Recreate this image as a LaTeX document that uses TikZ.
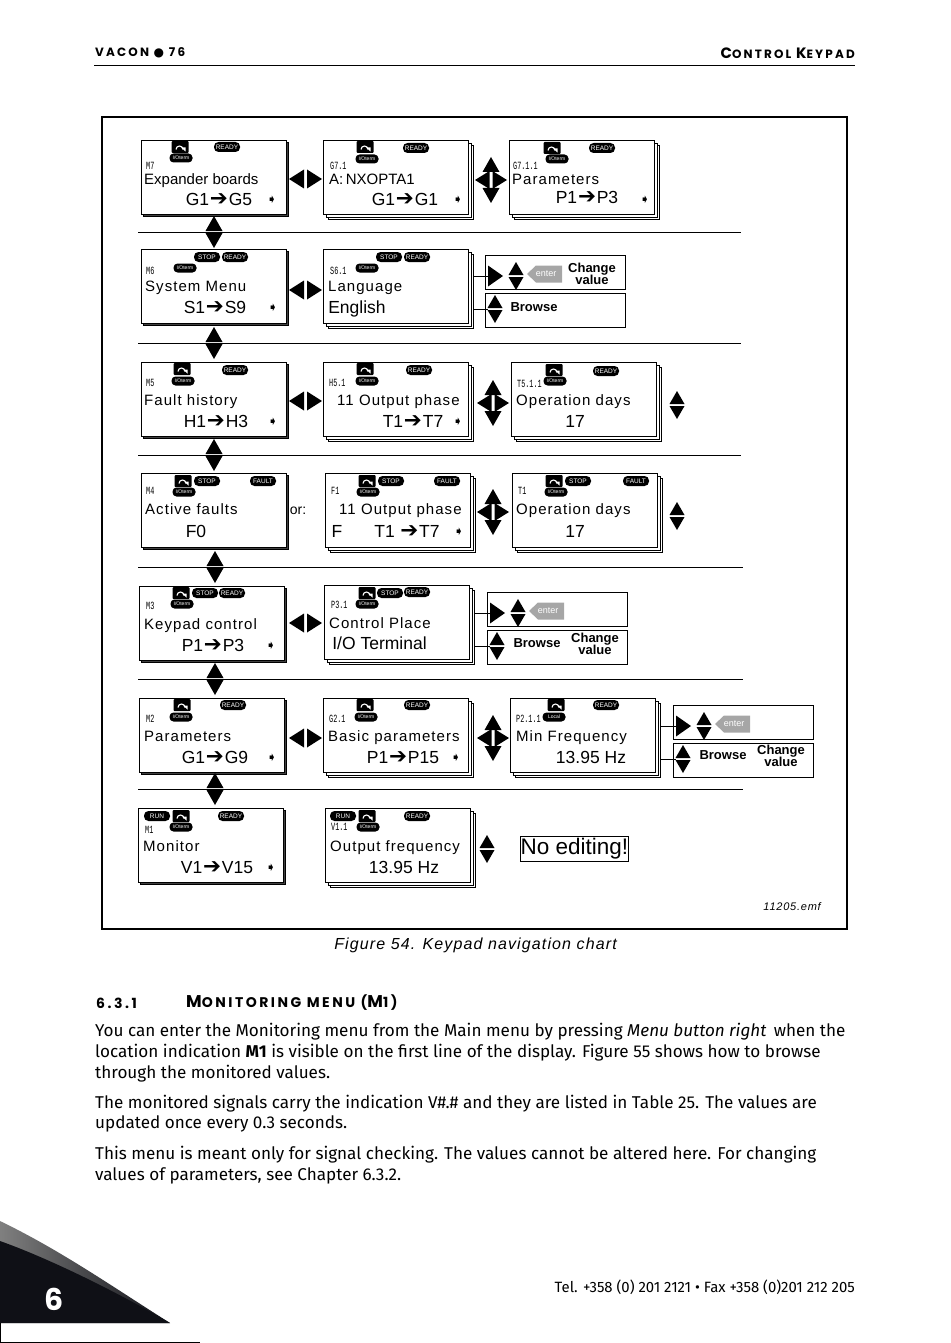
\documentclass[tikz,border=0pt]{standalone}
\usepackage{fontspec}
\usepackage{graphicx}
\setmainfont{Liberation Sans}
\newfontfamily\titlefont[LetterSpace=7]{Liberation Sans}
\newfontfamily\valuefont{Liberation Sans}
\newfontfamily\arrowfont{DejaVu Sans}
\newfontfamily\lcdfont{Liberation Mono}
\newfontfamily\capsfont[LetterSpace=18]{Poppins}
\newfontfamily\bodyfont{Fira Sans}
\newcommand{\goes}{\hspace{.8pt}{\fontsize{21.5}{20}\selectfont\arrowfont\char"2794}\hspace{.8pt}}
\newcommand{\lcdtext}[1]{\scalebox{.62}[1]{#1}}
\newcommand{\capinit}[1]{{\fontsize{15}{15}\selectfont #1}}
\newcommand{\seccap}[1]{{\fontsize{17}{17}\selectfont #1}}
\definecolor{inkblack}{HTML}{0F1016}
\tikzset{
  screen/.style={draw, fill=white, line width=.9pt, anchor=north west, inner sep=0,
    minimum width=145pt, minimum height=73.5pt},
  backing/.style={screen, fill=black!75},
  optionbox/.style={draw, line width=.8pt, anchor=north west, inner sep=0,
    minimum width=140pt, minimum height=34pt},
  titletext/.style={anchor=base west, inner sep=0, font={\fontsize{15}{15}\selectfont\titlefont}},
  valuetext/.style={anchor=base, inner sep=0, font={\fontsize{17.5}{18}\selectfont\valuefont}},
  codetext/.style={anchor=west, inner sep=0, font={\fontsize{11}{11}\selectfont\lcdfont}},
  marktext/.style={inner sep=0, font={\fontsize{12}{12}\selectfont\arrowfont}},
  pill/.style={fill=black, text=white, rounded corners=4.5pt, inner sep=0, minimum width=26pt,
    minimum height=10pt, font={\fontsize{6.5}{7}\selectfont}},
  iopill/.style={pill, rounded corners=4pt, minimum width=23pt, minimum height=9pt, font={\fontsize{5}{6}\selectfont}},
  boldtext/.style={inner sep=0, align=center, font={\fontsize{13}{12.5}\selectfont\bfseries}},
  bodytext/.style={anchor=base west, inner sep=0, font={\fontsize{17.1}{20}\selectfont\bodyfont}},
  capstext/.style={inner sep=0, font={\fontsize{12}{14}\selectfont\capsfont\bfseries}},
  sectext/.style={capstext, anchor=west, font={\fontsize{14}{16}\selectfont\capsfont\bfseries}},
  updown/.pic={
    \fill (-8.5,-1) -- (0,-16) -- (8.5,-1) -- cycle;
    \fill (-8.5,1) -- (0,16) -- (8.5,1) -- cycle;
  },
  smallupdown/.pic={
    \fill (-7.5,-1) -- (0,-14) -- (7.5,-1) -- cycle;
    \fill (-7.5,1) -- (0,14) -- (7.5,1) -- cycle;
  },
  leftright/.pic={
    \fill (-1.5,-9.5) -- (-16.5,0) -- (-1.5,9.5) -- cycle;
    \fill (1.5,-9.5) -- (16.5,0) -- (1.5,9.5) -- cycle;
  },
  cross/.pic={
    \fill (-8.5,-8) -- (0,-23) -- (8.5,-8) -- cycle;
    \fill (-8.5,8) -- (0,23) -- (8.5,8) -- cycle;
    \fill (-1.5,-9) -- (-16,0) -- (-1.5,9) -- cycle;
    \fill (1.5,-9) -- (16,0) -- (1.5,9) -- cycle;
  },
  turnkey/.pic={
    \fill[rounded corners=1pt] (-8.5,-6) rectangle (8.5,6);
    \draw[white, line width=1.1pt] (-4,2.5) arc[start angle=180, end angle=360, radius=3.5];
    \fill[white] (1,.5) -- (5.5,4.5) -- (5.5,.5) -- cycle;
  },
  enterkey/.pic={
    \fill[gray!70] (0,0) -- (9,-8.5) -- (35,-8.5) -- (35,8.5) -- (9,8.5) -- cycle;
  },
}
\begin{document}
\begin{tikzpicture}[x=1pt, y=-1pt]
    \useasboundingbox (0,0) rectangle (950,1343);

    % Page header
    \node[capstext, anchor=west] (hdrleft) at (95,53) {VACON {\arrowfont\char"25CF} 76};
    \node[capstext, anchor=east] (hdrright) at (855,53) {\capinit{C}ONTROL \capinit{K}EYPAD};
    \draw[line width=1.3pt] (94,65.5) -- (855,65.5);

    % Outer frame
    \draw[line width=1.6pt] (102,117) rectangle (847,929);

    % Separators
    \foreach \y/\xa/\xb in {232/138/741, 343/138/741, 455/138/741, 567/138/743, 679/138/743, 789/138/743}
        \draw[line width=.9pt] (\xa,\y) -- (\xb,\y);

    % Screens with a plain shadow
    \foreach \id/\x/\y in {m7/141/140, m6/141/249, m5/141/362, m4/141/473, m3/139/586, m2/139/698, m1/138/808} {
        \node[backing] (\id-a) at (\x+2,\y+2) {};
        \node[screen] (\id) at (\x,\y) {};
    }

    % Screens with stacked pages
    \foreach \id/\x/\y in {g71/323/140, g711/509/140, s61/323/249, h51/323/362, t511/511/362, f1/325/473,
                           t1/512/473, p31/324/585, g21/323/698, p211/510/698, v11/325/808} {
        \node[screen] (\id-b) at (\x+5,\y+5) {};
        \node[screen] (\id-a) at (\x+3,\y+3) {};
        \node[screen] (\id) at (\x,\y) {};
    }

    % Location codes
    \foreach \id/\x/\y/\code in {m7/146/166/M7, g71/330/166/G7.1, g711/513/166/G7.1.1, m6/146/271/M6,
                                 s61/330/271/S6.1, m5/146/383/M5, h51/329/383/H5.1, t511/517/384/T5.1.1,
                                 m4/146/491/M4, f1/331/491/F1, t1/518/491/T1, m3/146/606/M3,
                                 p31/331/605/P3.1, m2/146/719/M2, g21/329/719/G2.1, p211/516/719/P2.1.1,
                                 m1/145/830/M1, v11/331/827/V1.1}
        \node[codetext] (\id-code) at (\x,\y) {\lcdtext{\code}};

    % Titles
    \foreach \id/\x/\y/\txt in {m7/144/180/{\valuefont Expander boards}, g71/329/180/{\valuefont A:\,NXOPTA1}, g711/512/180/Parameters,
                                m6/145/286/System Menu, s61/328/286/Language, m5/144/400/Fault history,
                                h51/337/400/11 Output phase, t511/516/400/Operation days, m4/145/509/Active faults,
                                f1/339/509/11 Output phase, t1/516/509/Operation days, m3/144/624/Keypad control,
                                p31/329/623/Control Place, m2/144/736/Parameters, g21/328/736/Basic parameters,
                                p211/516/736/Min Frequency, m1/143/846/Monitor, v11/330/846/Output frequency}
        \node[titletext] (\id-title) at (\x,\y+5) {\txt};

    % Values
    \foreach \id/\x/\y/\txt in {m7/219/199/G1\goes G5, g71/405/199/G1\goes G1, g711/587/198/P1\goes P3,
                                m6/215/307/S1\goes S9, s61/357/307/English, m5/216/421/H1\goes H3,
                                h51/413/421/T1\goes T7, t511/575/421/17, m4/196/531/F0, t1/575/531/17,
                                m3/213/645/P1\goes P3, p31/379.5/643/{I/O Terminal}, m2/215/757/G1\goes G9,
                                g21/403/757/P1\goes P15, p211/591/757/13.95 Hz, m1/217/867/V1\goes V15,
                                v11/404/867/13.95 Hz, f1/337/531/F, f1b/407/531/T1 \goes T7}
        \node[valuetext] (\id-value) at (\x,\y+6) {\txt};

    % Small arrows at the end of the value line
    \foreach \id/\x/\y in {m7/272/200, g71/458/200, g711/645/200, m6/273/308, m5/273/422, h51/458/422, f1/459/532,
                           m3/271/646, m2/272/758, g21/456/758, m1/271/868}
        \node[marktext] (\id-mark) at (\x,\y) {\char"27A7};

    % Status indicators
    \foreach \id/\x/\y/\txt in {a/227/147/READY, b/416/148/READY, c/602/148/READY, d/207/257/STOP, e/235/257/READY,
                                f/389/257/STOP, g/417/257/READY, h/235/370/READY, i/419/370/READY, j/606/371/READY,
                                k/207/481/STOP, l/263/481/FAULT, m/391/481/STOP, n/447/481/FAULT, o/578/481/STOP,
                                p/636/481/FAULT, q/205/593/STOP, r/232/593/READY, s/390/593/STOP, t/417/592/READY,
                                u/233/705/READY, v/417/705/READY, w/606/705/READY, x/157/816/RUN, y/231/816/READY,
                                z/343/816/RUN, aa/417/816/READY}
        \node[pill] (st-\id) at (\x,\y) {\txt};
    \foreach \id/\x/\y/\txt in {a/181/158/{I/Oterm}, b/367/159/{I/Oterm}, c/557/159/{I/Oterm}, d/185/268/{I/Oterm},
                                e/367/268/{I/Oterm}, f/183/381/{I/Oterm}, g/367/381/{I/Oterm}, h/555/381/{I/Oterm},
                                i/184/492/{I/Oterm}, j/368/492/{I/Oterm}, k/556/492/{I/Oterm}, l/182/604/{I/Oterm},
                                m/367/604/{I/Oterm}, n/181/717/{I/Oterm}, o/366/717/{I/Oterm}, p/554/717/Local,
                                q/181/827/{I/Oterm}, r/368/827/{I/Oterm}}
        \node[iopill] (io-\id) at (\x,\y) {\txt};

    % Turning arrow keys
    \foreach \x/\y in {180/147, 365/147, 552/148, 182/369, 365/369, 554/370, 183/481, 367/481, 554/481,
                       181/593, 367/593, 182/705, 365/705, 556/705, 181/816, 367/816}
        \pic at (\x,\y) {turnkey};

    % Navigation arrows
    \foreach \x/\y in {214/232, 214/343, 214/455, 215/567, 215/679, 215/789}
        \pic at (\x,\y) {updown};
    \foreach \x/\y in {305.5/179, 305.5/290, 305.5/401, 305.5/623, 305.5/738}
        \pic at (\x,\y) {leftright};
    \foreach \x/\y in {491/180, 493/403, 493/512, 493/738}
        \pic at (\x,\y) {cross};
    \foreach \x/\y in {677/405, 677/516, 487/849}
        \pic at (\x,\y) {smallupdown};

    % Boxes beside the last screen of a row
    \foreach \id/\x/\y/\from in {sa/485/255/s61-b, sb/487/592/p31-b, sc/673/705/p211-b} {
        \node[optionbox] (\id-edit) at (\x,\y) {};
        \node[optionbox] (\id-look) at (\x,\y+38) {};
        \coordinate (\id-in) at (\x+3,\y+21);
        \coordinate (\id-out) at (\x+3,\y+54);
        \fill (\x+3,\y+10.5) -- (\x+18,\y+21) -- (\x+3,\y+31.5) -- cycle;
        \pic at (\x+31,\y+21) {smallupdown};
        \pic at (\x+10,\y+54) {smallupdown};
        \pic at (\x+42,\y+19) {enterkey};
        \node[inner sep=0, text=white, font={\fontsize{9}{9}\selectfont}] (\id-enter) at (\x+61,\y+18.5) {enter};
        \draw[line width=.8pt] (\from.east |- \id-in) -- (\id-in);
        \draw[line width=.8pt] (\from.east |- \id-out) -- (\id-out);
    }
    \node[boldtext] (sa-change) at (592,274) {Change\\value};
    \node[boldtext] (sa-browse) at (534,307) {Browse};
    \node[boldtext] (sb-browse) at (537,643) {Browse};
    \node[boldtext] (sb-change) at (595,644) {Change\\value};
    \node[boldtext] (sc-browse) at (723,755) {Browse};
    \node[boldtext] (sc-change) at (781,756) {Change\\value};

    % Remaining text in the frame
    \node[inner sep=0, font={\fontsize{14}{14}\selectfont}] (orword) at (298,511) {or:};
    \node[draw, line width=.8pt, inner sep=0, minimum width=107pt, minimum height=25pt,
          font={\fontsize{22.5}{23}\selectfont}] (noedit) at (574.5,849) {No editing!};
    \node[anchor=east, inner sep=0, font={\fontsize{11}{11}\selectfont\titlefont\itshape}] (filename) at (821,907) {11205.emf};

    % Caption
    \node[inner sep=0, font={\fontsize{16}{16}\selectfont\titlefont\itshape}] (caption) at (475.5,945) {Figure 54. Keypad navigation chart};

    % Section heading
    \node[sectext] (secnum) at (96,1003) {6.3.1};
    \node[sectext] (sectitle) at (186,1003) {\seccap{M}ONITORING MENU (\seccap{M}1)};

    % Body text
    \foreach \y/\txt in {1036/{You can enter the Monitoring menu from the Main menu by pressing \textit{Menu button right}\, when the},
                         1057/{location indication \textbf{M1} is visible on the first line of the display. Figure 55 shows how to browse},
                         1078/{through the monitored values.},
                         1108/{The monitored signals carry the indication V\#.\# and they are listed in Table 25. The values are},
                         1128/{updated once every 0.3 seconds.},
                         1159/{This menu is meant only for signal checking. The values cannot be altered here. For changing},
                         1180/{values of parameters, see Chapter 6.3.2.}}
        \node[bodytext] (body-\y) at (95,\y) {\txt};

    % Footer
    \node[anchor=east, inner sep=0, font={\fontsize{14.9}{15}\selectfont\bodyfont}] (footer) at (855,1287)
        {Tel. +358 (0) 201 2121 • Fax +358 (0)201 212 205};

    % Corner swoosh
    \shade[left color=gray, middle color=black!80, right color=inkblack] (0,1221) .. controls (60,1250) and (110,1285) .. (170,1323)
        -- (0,1323) -- cycle;
    \fill[inkblack] (0,1241) .. controls (45,1257) and (110,1288) .. (170,1323) -- (0,1323) -- cycle;
    \node[inner sep=0, text=white, font={\fontsize{30}{30}\selectfont\capsfont\bfseries}] (pagenum) at (54,1299) {6};
    \draw[line width=.9pt] (.5,1323) -- (.5,1342) -- (200,1342);
\end{tikzpicture}
\end{document}
